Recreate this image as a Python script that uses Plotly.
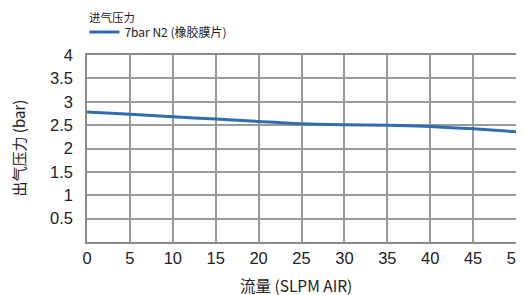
import plotly.graph_objects as go

flow = [0, 5, 10, 15, 20, 25, 30, 35, 40, 45, 50]
pressure = [2.78, 2.73, 2.68, 2.63, 2.58, 2.53, 2.51, 2.50, 2.47, 2.42, 2.36]
series_name = "7bar N2 (橡胶膜片)"
legend_title = "进气压力"
x_title = "流量 (SLPM AIR)"
y_title = "出气压力 (bar)"
x_ticks = [0, 5, 10, 15, 20, 25, 30, 35, 40, 45, 50]
y_ticks = [0.5, 1, 1.5, 2, 2.5, 3, 3.5, 4]
y_ticklabels = ["0.5", "1", "1.5", "2", "2.5", "3", "3.5", "4"]

cjk = "Noto Sans CJK SC, Noto Sans, sans-serif"
num = "Liberation Sans, Arial, sans-serif"

fig = go.Figure()
fig.add_trace(go.Scatter(
    x=flow, y=pressure, mode="lines", name=series_name,
    line=dict(color="#2f6db0", width=3, shape="spline", smoothing=0.6),
))

fig.update_layout(
    width=524, height=295,
    margin=dict(l=79, r=16, t=47, b=61),
    paper_bgcolor="white", plot_bgcolor="white",
    showlegend=True,
    legend=dict(
        x=-0.006, y=1 - 24 / 295, xanchor="left", yanchor="middle", yref="container",
        font=dict(family=cjk, size=12, color="#222"),
        itemwidth=30, borderwidth=0, bgcolor="rgba(0,0,0,0)",
    ),
    xaxis=dict(
        range=[0, 50], tickvals=x_ticks, automargin=False,
        showgrid=True, gridcolor="#9a9a9a", gridwidth=1.5,
        showline=True, linecolor="#8a8a8a", linewidth=1.5, mirror=True,
        ticks="", zeroline=False, ticklabelstandoff=0, ticklabeloverflow="allow",
        tickfont=dict(family=num, size=16.5, color="#222"),
    ),
    yaxis=dict(
        range=[0, 4], tickvals=y_ticks, ticktext=y_ticklabels, automargin=False,
        showgrid=True, gridcolor="#9a9a9a", gridwidth=1.5,
        showline=True, linecolor="#8a8a8a", linewidth=1.5, mirror=True,
        ticks="", zeroline=False, ticklabelstandoff=9,
        tickfont=dict(family=num, size=16.5, color="#222"),
    ),
    annotations=[
        dict(text=legend_title, xref="paper", yref="paper", x=0, y=1 + (55 - 17) / 187,
             xanchor="left", yanchor="middle", showarrow=False,
             font=dict(family=cjk, size=11.5, color="#222")),
        dict(text=x_title, xref="paper", yref="paper", x=(295.5 - 87) / 429, y=-(285 - 242) / 187,
             xanchor="center", yanchor="middle", showarrow=False,
             font=dict(family=cjk, size=15.5, color="#222")),
        dict(text=y_title, xref="paper", yref="paper", x=(18 - 87) / 429, y=0.5,
             xanchor="center", yanchor="middle", showarrow=False, textangle=-90,
             font=dict(family=cjk, size=15, color="#222")),
    ],
)

fig.write_html("out.html")
